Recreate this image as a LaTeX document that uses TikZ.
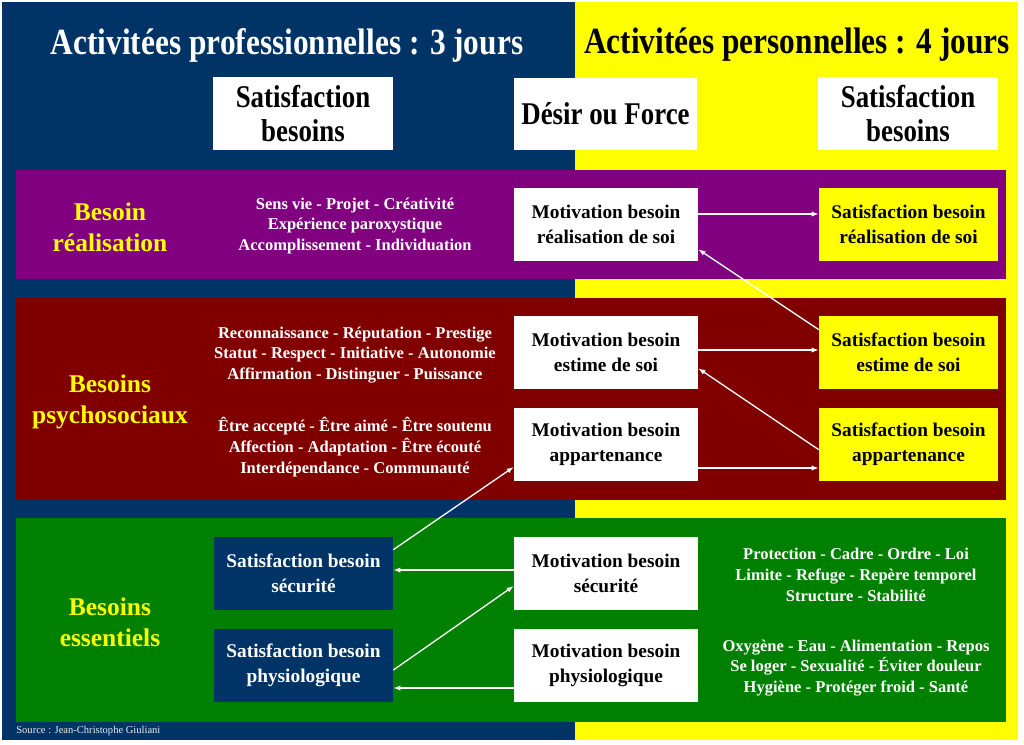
\documentclass[tikz,border=0pt]{standalone}
\usepackage{fontspec}
\setmainfont{Liberation Serif}
\newfontfamily\narrowserif{Liberation Serif}[FakeStretch=0.85]
\usepackage{tikz}
\usetikzlibrary{arrows.meta, positioning}
\definecolor{navy}{RGB}{0,51,102}
\definecolor{needyellow}{RGB}{255,255,0}
\definecolor{bandpurple}{RGB}{128,0,128}
\definecolor{bandmaroon}{RGB}{128,0,0}
\definecolor{bandgreen}{RGB}{0,128,0}
\tikzset{%
	headbox/.style={rectangle, fill=white, minimum width=3.6cm, minimum height=1.46cm, inner sep=0mm,%
		align=center, font=\narrowserif\bfseries\fontsize{18}{19.5}\selectfont},
	motbox/.style={rectangle, fill=white, minimum width=3.68cm, minimum height=1.46cm, inner sep=0mm,%
		align=center, font=\bfseries\fontsize{11}{14}\selectfont},
	satbox/.style={motbox, fill=needyellow, minimum width=3.58cm},
	secbox/.style={satbox, fill=navy, text=white},
	title/.style={font=\narrowserif\bfseries\fontsize{21}{24}\selectfont},
	needlbl/.style={text=needyellow, align=center, font=\bfseries\fontsize{14.5}{17.6}\selectfont},
	listtxt/.style={text=white, align=center, font=\bfseries\fontsize{9.4}{11.9}\selectfont},
	link/.style={-{Latex[length=4pt,width=3pt]}, white, line width=0.75pt}
}
\begin{document}
\begin{tikzpicture}[x=0.02cm, y=-0.02cm]
	\useasboundingbox (0,0) rectangle (1024,744);
	\fill[white] (0,0) rectangle (1024,744);
	\fill[navy] (2,2) rectangle (575,740);
	\fill[needyellow] (575,2) rectangle (1018,740);
	% bands
	\fill[bandpurple] (16,170) rectangle (1006,279);
	\fill[bandmaroon] (16,298) rectangle (1006,500);
	\fill[bandgreen] (16,518) rectangle (1006,722);

	\node[title, text=white] (tpro) at (287,45) {Activitées professionnelles : 3 jours};
	\node[title, text=black] (tperso) at (797,45) {Activitées personnelles : 4 jours};
	\node[headbox] (hsatl) at (303,113.5) {Satisfaction\\besoins};
	\node[headbox, minimum width=3.66cm] (hdesir) at (605.5,114) {Désir ou Force};
	\node[headbox] (hsatr) at (908,113.5) {Satisfaction\\besoins};

	% besoin realisation
	\node[needlbl] (lreal) at (110,227) {Besoin\\réalisation};
	\node[listtxt] (txreal) at (355,226) {Sens vie - Projet - Créativité\\Expérience paroxystique\\Accomplissement - Individuation};
	\node[motbox] (mreal) at (606,224.5) {Motivation besoin\\réalisation de soi};
	\node[satbox] (sreal) at (908.5,224.5) {Satisfaction besoin\\réalisation de soi};

	% besoins psychosociaux
	\node[needlbl] (lpsy) at (110,402) {Besoins\\psychosociaux};
	\node[listtxt] (txest) at (355,355) {Reconnaissance - Réputation - Prestige\\Statut - Respect - Initiative - Autonomie\\Affirmation - Distinguer - Puissance};
	\node[listtxt] (txapp) at (355,447) {Être accepté - Être aimé - Être soutenu\\Affection - Adaptation - Être écouté\\Interdépendance - Communauté};
	\node[motbox] (mest) at (606,352.5) {Motivation besoin\\estime de soi};
	\node[satbox] (sest) at (908.5,352.5) {Satisfaction besoin\\estime de soi};
	\node[motbox] (mapp) at (606,444.5) {Motivation besoin\\appartenance};
	\node[satbox] (sapp) at (908.5,444.5) {Satisfaction besoin\\appartenance};

	% besoins essentiels
	\node[needlbl] (less) at (110,622) {Besoins\\essentiels};
	\node[secbox] (ssec) at (303.5,573.5) {Satisfaction besoin\\sécurité};
	\node[secbox] (sphy) at (303.5,665.5) {Satisfaction besoin\\physiologique};
	\node[motbox] (msec) at (606,573.5) {Motivation besoin\\sécurité};
	\node[motbox] (mphy) at (606,665.5) {Motivation besoin\\physiologique};
	\node[listtxt] (txsec) at (856,575) {Protection - Cadre - Ordre - Loi\\Limite - Refuge - Repère temporel\\Structure - Stabilité};
	\node[listtxt] (txphy) at (856,668) {Oxygène - Eau - Alimentation - Repos\\Se loger - Sexualité - Éviter douleur\\Hygiène - Protéger froid - Santé};

	\node[anchor=west, text=white!85!gray, font=\fontsize{6}{7}\selectfont, inner sep=0pt] (src) at (16,731) {Source : Jean-Christophe Giuliani};

	\draw[link] ([yshift=0.21cm]mreal.east) to ([yshift=0.21cm]sreal.west);
	\draw[link] ([yshift=-0.28cm]sest.north west) to ([yshift=0.24cm]mreal.south east);
	\draw[link] ([yshift=0.05cm]mest.east) to ([yshift=0.05cm]sest.west);
	\draw[link] ([yshift=-0.84cm]sapp.north west) to ([yshift=0.42cm]mest.south east);
	\draw[link] ([yshift=-0.47cm]mapp.east) to ([yshift=-0.47cm]sapp.west);
	\draw[link] ([yshift=-0.26cm]ssec.north east) to ([yshift=-0.45cm]mapp.west);
	\draw[link] ([yshift=0.07cm]msec.west) to ([yshift=0.07cm]ssec.east);
	\draw[link] ([yshift=-0.09cm]sphy.east) to ([yshift=-0.25cm]msec.west);
	\draw[link] ([yshift=-0.45cm]mphy.west) to ([yshift=-0.45cm]sphy.east);
\end{tikzpicture}
\end{document}
